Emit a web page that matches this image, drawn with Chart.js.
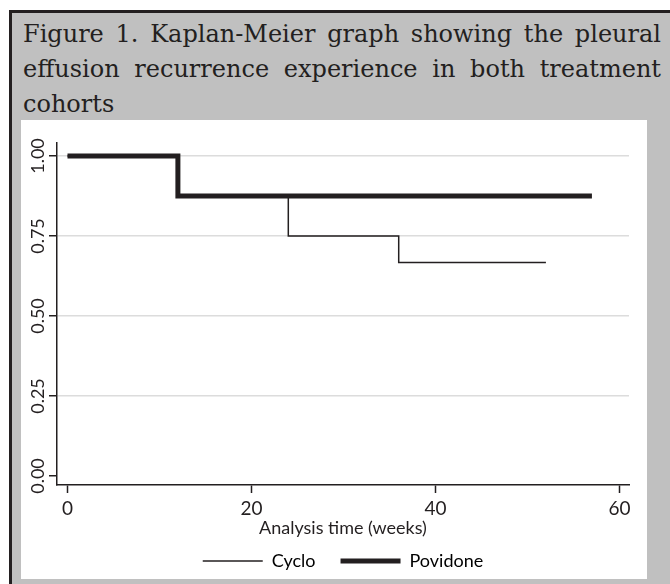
<!DOCTYPE html>
<html>
<head>
<meta charset="utf-8">
<script src="https://cdn.jsdelivr.net/npm/chart.js@4/dist/chart.umd.min.js"></script>
<style>
    html, body { margin: 0; padding: 0; background: #fff; overflow: hidden; }
    body { width: 670px; height: 584px; position: relative; }
    #frame {
        position: absolute; left: 9px; top: 10px; width: 670px; height: 600px;
        background: #c0c0c0; border-top: 3px solid #231f20; border-left: 3px solid #231f20;
    }
    #title {
        position: absolute; left: 23px; top: 17px; width: 638px;
        font-family: 'DejaVu Serif', serif; font-size: 24px; line-height: 35px; color: #231f20;
        white-space: nowrap;
    }
    #title .j { text-align: justify; text-align-last: justify; }
    #panel { position: absolute; left: 21px; top: 120px; width: 626px; height: 459px; background: #fff; }
    #km { position: absolute; left: 21px; top: 120px; }
</style>
</head>
<body>
<div id="frame"></div>
<div id="title">
    <div class="j">Figure 1. Kaplan-Meier graph showing the pleural</div>
    <div class="j">effusion recurrence experience in both treatment</div>
    <div>cohorts</div>
</div>
<div id="panel"></div>
<canvas id="km" width="626" height="460"></canvas>
<script>
// survival steps
const cycloWeeks = [0, 12, 24, 36, 52];
const cycloSurv = [1, 0.875, 0.75, 0.667, 0.667];
const povidoneWeeks = [0, 12, 57];
const povidoneSurv = [1, 0.875, 0.875];

const seriesNames = ['Cyclo', 'Povidone'];
const xTicks = [0, 20, 40, 60];
const yTicks = [0, 0.25, 0.5, 0.75, 1];

const INK = '#231f20';
const FONT = 'Lato, sans-serif';

function toPoints(xs, ys) {
    return xs.map((x, i) => ({ x: x, y: ys[i] }));
}

new Chart(document.getElementById('km'), {
    type: 'line',
    data: {
        datasets: [{
            label: seriesNames[0],
            data: toPoints(cycloWeeks, cycloSurv),
            borderColor: INK,
            borderWidth: 1.5,
            stepped: true,
            borderJoinStyle: 'miter',
            pointRadius: 0,
            fill: false
        }, {
            label: seriesNames[1],
            data: toPoints(povidoneWeeks, povidoneSurv),
            borderColor: INK,
            borderWidth: 5,
            stepped: true,
            borderJoinStyle: 'miter',
            pointRadius: 0,
            fill: false
        }]
    },
    options: {
        responsive: false,
        animation: false,
        devicePixelRatio: 1,
        layout: { padding: { top: 23, left: 0, right: 18, bottom: 0 } },
        scales: {
            x: {
                type: 'linear',
                min: -1.14,
                max: 61.03,
                afterBuildTicks: (s) => { s.ticks = xTicks.map(v => ({ value: v })); },
                afterFit: (s) => { s.height = 42; },
                ticks: {
                    color: INK,
                    padding: 4,
                    maxRotation: 0,
                    font: { family: FONT, size: 19 },
                    callback: (v) => String(v)
                },
                grid: {
                    drawOnChartArea: false,
                    tickLength: 8,
                    tickColor: INK,
                    tickWidth: 1.5
                },
                border: { color: INK, width: 1.5 },
                title: {
                    display: true,
                    text: 'Analysis time (weeks)',
                    color: INK,
                    font: { family: FONT, size: 18 },
                    padding: { top: 0, bottom: -12 }
                }
            },
            y: {
                min: -0.0281,
                max: 1.0406,
                afterBuildTicks: (s) => { s.ticks = yTicks.map(v => ({ value: v })); },
                afterFit: (s) => { s.width = 36; },
                ticks: {
                    color: INK,
                    padding: -7,
                    minRotation: 90,
                    maxRotation: 90,
                    crossAlign: 'center',
                    font: { family: FONT, size: 18 },
                    callback: (v) => v.toFixed(2)
                },
                grid: {
                    color: (ctx) => (ctx.tick && ctx.tick.value === 0) ? 'rgba(0,0,0,0)' : '#dcdcdc',
                    lineWidth: 1.5,
                    tickLength: 8,
                    tickColor: INK,
                    tickWidth: 1.5
                },
                border: { color: INK, width: 1.5 }
            }
        },
        plugins: {
            tooltip: { enabled: false },
            legend: {
                position: 'bottom',
                fullSize: false,
                labels: {
                    color: INK,
                    font: { family: FONT, size: 18 },
                    padding: 25,
                    usePointStyle: true,
                    pointStyleWidth: 60,
                    generateLabels: (chart) => chart.data.datasets.map((ds, i) => ({
                        text: ds.label,
                        pointStyle: 'line',
                        lineWidth: ds.borderWidth,
                        strokeStyle: ds.borderColor,
                        fillStyle: ds.borderColor,
                        lineCap: 'butt',
                        datasetIndex: i,
                        hidden: false
                    }))
                }
            }
        }
    }
});
</script>
</body>
</html>
